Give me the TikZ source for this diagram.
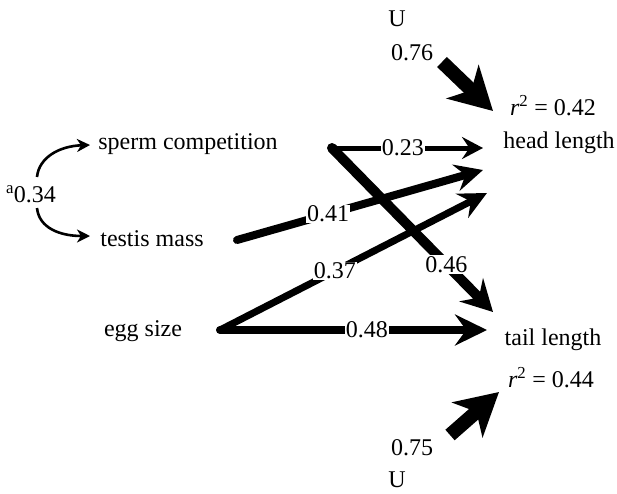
\documentclass[tikz,border=0pt]{standalone}
\usepackage{fontspec}
\setmainfont{Liberation Serif}
\usetikzlibrary{arrows.meta}
\begin{document}
\begin{tikzpicture}[x=1pt,y=-1pt,
  txt/.style={font=\fontsize{24}{28}\selectfont, inner sep=0pt},
  lbl/.style={font=\fontsize{24}{28}\selectfont, fill=white, inner sep=1pt},
  conn/.style n args={3}{line width=#1, line cap=round, -{Stealth[length=#2,width=#3,inset=0.35*#2]}},
  bigarr/.style={line width=14pt, -{Stealth[length=42pt,width=46pt,inset=12pt]}},
  curv/.style={line width=2.6pt, -{Stealth[length=13pt,width=13pt,inset=4pt]}}
]
\useasboundingbox (0,0) rectangle (617,493);
% nodes
\node[txt] (sperm) at (188,144) {sperm competition};
\node[txt] (testis) at (152,239) {testis mass};
\node[txt] (egg) at (143,331) {egg size};
\node[txt] (head) at (559,143) {head length};
\node[txt] (tail) at (553,340) {tail length};
\node[txt] (r2h) at (553,106) {\textit{r}\textsuperscript{2} = 0.42};
\node[txt] (r2t) at (551,378) {\textit{r}\textsuperscript{2} = 0.44};
\node[txt] (U1) at (397,19) {U};
\node[txt] (U2) at (397,480) {U};
\node[txt] (e1) at (412,53) {0.76};
\node[txt] (e2) at (412,448) {0.75};
\node[txt] (cor) at (31,194) {\textsuperscript{a}0.34};
% coordinates
\coordinate (cs) at (332,148);
\coordinate (ct) at (237,240);
\coordinate (ce) at (220,330);
\coordinate (h1) at (483,148);
\coordinate (h2) at (483,170);
\coordinate (h3) at (487,193);
\coordinate (t1) at (493,312);
\coordinate (t2) at (487,330);
\coordinate (ua) at (442,62);
\coordinate (ub) at (493,111);
\coordinate (la) at (450,435);
\coordinate (lb) at (499,392);
\coordinate (c1) at (37,177);
\coordinate (c2) at (90,145);
\coordinate (c3) at (37,208);
\coordinate (c4) at (90,236);
% connectors
\draw[conn={5pt}{21pt}{22pt}] (cs) -- node[lbl,pos=0.47] (l23) {0.23} (h1);
\draw[conn={8pt}{28pt}{27pt}] (ct) -- node[lbl,pos=0.37] (l41) {0.41} (h2);
\draw[conn={7pt}{28pt}{27pt}] (ce) -- node[lbl,pos=0.43] (l37) {0.37} (h3);
\draw[conn={8pt}{32pt}{31pt}] (ce) -- node[lbl,pos=0.55] (l48) {0.48} (t2);
\draw[conn={10pt}{31pt}{33pt}] (cs) -- node[lbl,pos=0.71] (l46) {0.46} (t1);
\draw[bigarr] (ua) -- (ub);
\draw[bigarr] (la) -- (lb);
\draw[curv] (c1) .. controls (39,157) and (60,146) .. (c2);
\draw[curv] (c3) .. controls (39,228) and (60,236) .. (c4);
\end{tikzpicture}
\end{document}
